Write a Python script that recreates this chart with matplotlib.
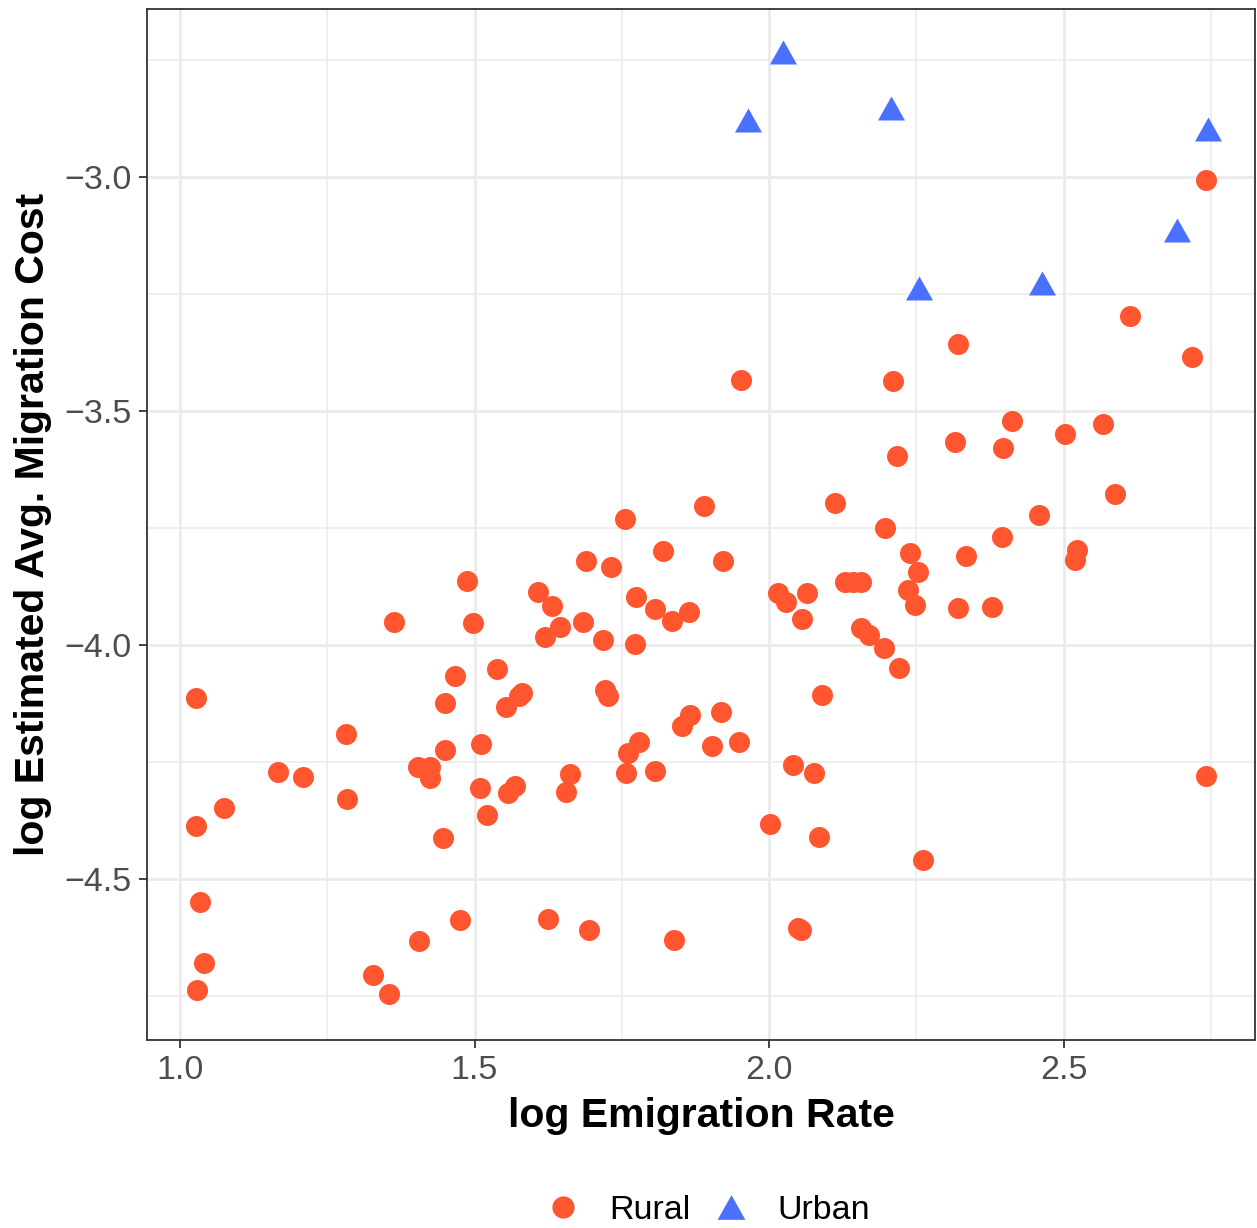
import matplotlib
matplotlib.use("Agg")
import matplotlib.pyplot as plt
from matplotlib.lines import Line2D

plt.rcParams['font.family'] = ['Liberation Sans', 'DejaVu Sans']

# Rural points: log emigration rate vs log estimated avg. migration cost
rural_x = [1.027, 1.027, 1.034, 1.041, 1.029, 1.075, 1.166, 1.209, 1.282, 1.284,
           1.363, 1.328, 1.355, 1.406, 1.404, 1.424, 1.424, 1.447, 1.450, 1.450,
           1.467, 1.475, 1.487, 1.497, 1.511, 1.509, 1.521, 1.538, 1.553, 1.557,
           1.569, 1.576, 1.581, 1.608, 1.620, 1.625, 1.632, 1.645, 1.655, 1.662,
           1.684, 1.689, 1.694, 1.718, 1.722, 1.727, 1.732, 1.756, 1.757, 1.761,
           1.774, 1.772, 1.779, 1.806, 1.806, 1.820, 1.835, 1.839, 1.852, 1.864,
           1.866, 1.890, 1.903, 1.919, 1.922, 1.949, 1.952, 2.002, 2.015, 2.029,
           2.041, 2.049, 2.054, 2.056, 2.065, 2.076, 2.085, 2.090, 2.112, 2.129,
           2.143, 2.156, 2.156, 2.170, 2.195, 2.197, 2.211, 2.217, 2.221, 2.239,
           2.236, 2.248, 2.253, 2.261, 2.316, 2.321, 2.321, 2.334, 2.379, 2.396,
           2.397, 2.413, 2.458, 2.503, 2.523, 2.520, 2.567, 2.587, 2.613, 2.718,
           2.742, 2.742]
rural_y = [-4.113, -4.387, -4.549, -4.679, -4.737, -4.348, -4.271, -4.282, -4.190, -4.329,
           -3.951, -4.705, -4.746, -4.632, -4.261, -4.261, -4.284, -4.412, -4.224, -4.124,
           -4.066, -4.588, -3.863, -3.953, -4.211, -4.306, -4.363, -4.051, -4.132, -4.316,
           -4.301, -4.109, -4.103, -3.887, -3.983, -4.585, -3.917, -3.962, -4.314, -4.276,
           -3.951, -3.821, -4.609, -3.989, -4.096, -4.109, -3.833, -3.731, -4.274, -4.231,
           -3.897, -3.998, -4.207, -3.923, -4.269, -3.799, -3.949, -4.630, -4.173, -3.929,
           -4.150, -3.703, -4.216, -4.143, -3.821, -4.207, -3.434, -4.382, -3.889, -3.908,
           -4.256, -4.605, -4.609, -3.944, -3.889, -4.274, -4.410, -4.107, -3.697, -3.865,
           -3.865, -3.865, -3.964, -3.979, -4.006, -3.750, -3.436, -3.596, -4.049, -3.803,
           -3.882, -3.915, -3.844, -4.459, -3.566, -3.357, -3.921, -3.810, -3.919, -3.769,
           -3.579, -3.521, -3.722, -3.549, -3.797, -3.818, -3.528, -3.677, -3.297, -3.385,
           -3.006, -4.280]

# Urban points
urban_x = [1.964, 2.024, 2.207, 2.255, 2.463, 2.693, 2.745]
urban_y = [-2.878, -2.733, -2.853, -3.237, -3.226, -3.113, -2.897]

rural_color = '#FF5630'
urban_color = '#4A70FF'
tri = [(0, 0.889), (-1, -0.889), (1, -0.889)]

fig = plt.figure(figsize=(12.57, 12.28), dpi=100)
ax = fig.add_axes([0.117, 0.1531, 0.8814, 0.8396])

ax.scatter(rural_x, rural_y, s=229, color=rural_color, marker='o', linewidths=0, zorder=3)
ax.scatter(urban_x, urban_y, s=378, color=urban_color, marker=tri, linewidths=0, zorder=3)

ax.set_xlim(0.944, 2.825)
ax.set_ylim(-4.844, -2.641)
ax.set_xticks([1.0, 1.5, 2.0, 2.5])
ax.set_yticks([-4.5, -4.0, -3.5, -3.0])
ax.set_xticks([1.25, 1.75, 2.25, 2.75], minor=True)
ax.set_yticks([-4.75, -4.25, -3.75, -3.25, -2.75], minor=True)
ax.set_xticklabels(['1.0', '1.5', '2.0', '2.5'])
ax.set_yticklabels(['\u22124.5', '\u22124.0', '\u22123.5', '\u22123.0'])

ax.grid(which='major', color='#EBEBEB', linewidth=2.0, zorder=0)
ax.grid(which='minor', color='#EBEBEB', linewidth=1.1, zorder=0)
ax.set_axisbelow(True)

ax.tick_params(which='major', length=6, width=1.3, color='#333333',
               labelsize=24.5, labelcolor='#4D4D4D', pad=5)
ax.tick_params(which='minor', length=0)
for sp in ax.spines.values():
    sp.set_color('#333333')
    sp.set_linewidth(1.3)

fig.text(0.5581, 0.0915, 'log Emigration Rate', ha='center', va='center',
         fontsize=29.5, fontweight='bold')
fig.text(0.026, 0.5728, 'log Estimated Avg. Migration Cost', ha='center', va='center',
         rotation=90, fontsize=29.5, fontweight='bold')

handles = [Line2D([], [], linestyle='none', marker='o', markersize=16,
                  markerfacecolor=rural_color, markeredgewidth=0, label='Rural'),
           Line2D([], [], linestyle='none', marker=tri, markersize=20,
                  markerfacecolor=urban_color, markeredgewidth=0, label='Urban')]
fig.legend(handles=handles, loc='center', bbox_to_anchor=(0.562, 0.0145), ncol=2,
           frameon=False, fontsize=24.5, handletextpad=0.75, columnspacing=0.6,
           handlelength=1.2, borderpad=0)

fig.savefig('out.png', dpi=100)
